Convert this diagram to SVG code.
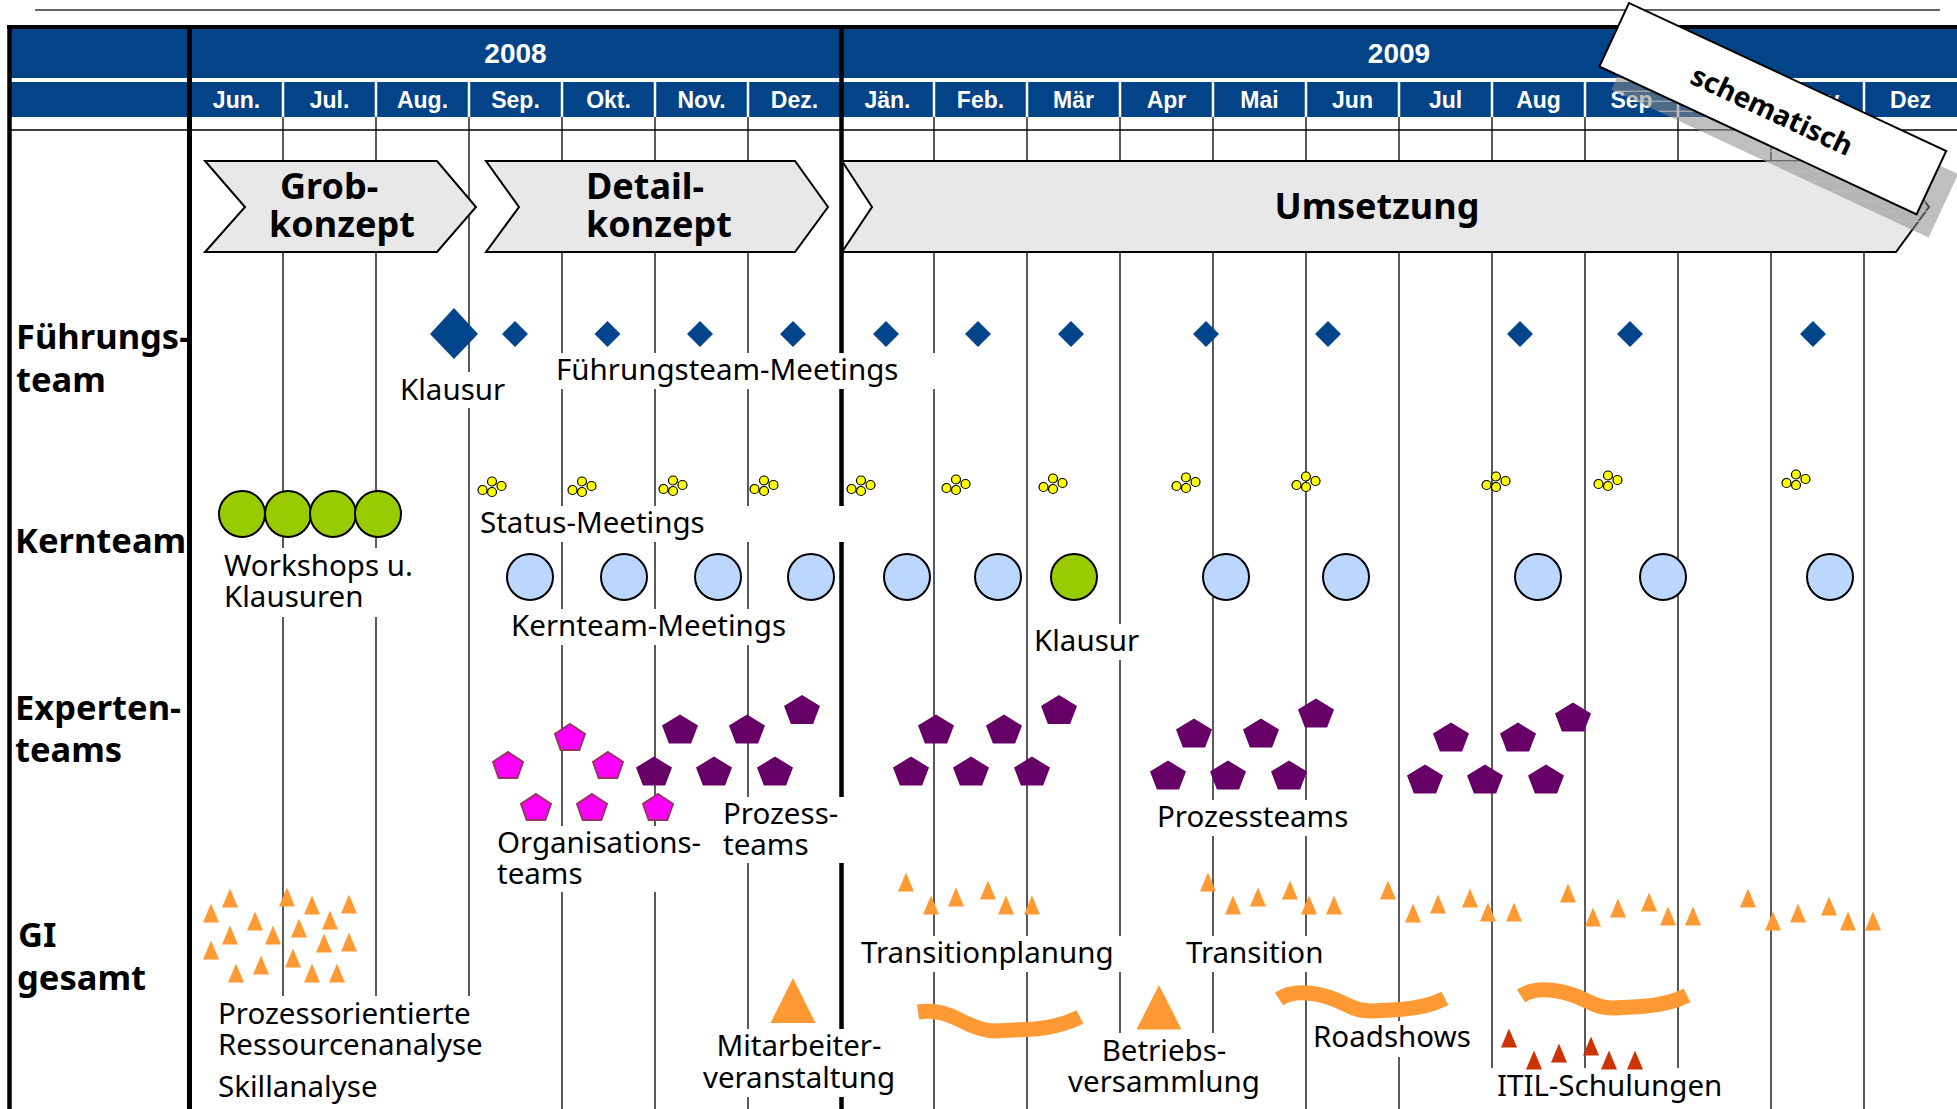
<svg xmlns="http://www.w3.org/2000/svg" xmlns:xlink="http://www.w3.org/1999/xlink" width="1957" height="1109" viewBox="0 0 1957 1109">
<defs>
<style>
.hd{font-family:"Liberation Sans",Arial,sans-serif;font-weight:bold;fill:#fff}
.yr{font-size:28px}
.mo{font-size:23px}
.rl{font-family:"Noto Sans","DejaVu Sans",sans-serif;font-weight:bold;font-size:34.5px;fill:#000}
.ch{font-family:"Noto Sans","DejaVu Sans",sans-serif;font-weight:bold;font-size:36px;fill:#000}
.lb{font-family:"Noto Sans","DejaVu Sans",sans-serif;font-size:29.5px;fill:#000}
.vl{stroke:#000;stroke-width:1.3}
.bg{fill:#fff}
.chev{fill:#e8e8e8;stroke:#000;stroke-width:2;stroke-linejoin:miter}
.dia{fill:#03458a}
.st circle{fill:#ffff00;stroke:#000;stroke-width:1.2}
.kb{fill:#bbd6ff;stroke:#000;stroke-width:2}
.kg{fill:#99cc00;stroke:#000;stroke-width:2}
.pk{fill:#ff00ff;stroke:#993366;stroke-width:2}
.pp{fill:#660066}
.or{fill:#ff9933}
.rd{fill:#cc3300}
.wave{fill:none;stroke:#ff9933;stroke-width:15;stroke-linecap:butt;stroke-linejoin:round}
</style>
<path id="tri" d="M0,-9.5 L8,9.5 L-8,9.5 Z"/>
<path id="dia" d="M0,-13 L13,0 L0,13 L-13,0 Z"/>
<path id="pent" d="M0,-14.5 L18,-3.4 L11.1,14.5 L-11.1,14.5 L-18,-3.4 Z"/>
<path id="pentk" d="M0,-13 L15,-3.1 L9.3,13 L-9.3,13 L-15,-3.1 Z"/>
<g id="st" class="st"><circle cx="-9.5" cy="3" r="4.5"/><circle cx="0" cy="-5.5" r="4.5"/><circle cx="9.5" cy="-1" r="4.5"/><circle cx="0" cy="5" r="4.5"/></g>
<pattern id="hatch" width="10" height="10" patternUnits="userSpaceOnUse" patternTransform="rotate(-25)">
<rect width="10" height="10" fill="#8a8a8a" fill-opacity="0.55"/>
<path d="M0,9.5 H10" stroke="#bdbdbd" stroke-width="1"/>
</pattern>
</defs>

<rect width="1957" height="1109" fill="#fff"/>
<line x1="35" y1="10" x2="1940" y2="10" stroke="#333" stroke-width="1.5"/>

<g id="header">
<rect x="9" y="29" width="1948" height="49" fill="#034388"/>
<rect x="9" y="82" width="1948" height="35" fill="#034388"/>
<g stroke="#fff" stroke-width="2.5">
<line x1="283" y1="82" x2="283" y2="117"/><line x1="376" y1="82" x2="376" y2="117"/><line x1="469" y1="82" x2="469" y2="117"/><line x1="562" y1="82" x2="562" y2="117"/><line x1="655" y1="82" x2="655" y2="117"/><line x1="748" y1="82" x2="748" y2="117"/>
<line x1="934" y1="82" x2="934" y2="117"/><line x1="1027" y1="82" x2="1027" y2="117"/><line x1="1120" y1="82" x2="1120" y2="117"/><line x1="1213" y1="82" x2="1213" y2="117"/><line x1="1306" y1="82" x2="1306" y2="117"/><line x1="1399" y1="82" x2="1399" y2="117"/><line x1="1492" y1="82" x2="1492" y2="117"/><line x1="1585" y1="82" x2="1585" y2="117"/><line x1="1678" y1="82" x2="1678" y2="117"/><line x1="1771" y1="82" x2="1771" y2="117"/><line x1="1864" y1="82" x2="1864" y2="117"/>
</g>
<rect x="7" y="25" width="1950" height="4" fill="#000"/>
<text class="hd yr" x="515.5" y="63" text-anchor="middle">2008</text>
<text class="hd yr" x="1399" y="63" text-anchor="middle">2009</text>
<g class="hd mo" text-anchor="middle">
<text x="236.5" y="108">Jun.</text><text x="329.5" y="108">Jul.</text><text x="422.5" y="108">Aug.</text><text x="515.5" y="108">Sep.</text><text x="608.5" y="108">Okt.</text><text x="701.5" y="108">Nov.</text><text x="794.5" y="108">Dez.</text>
<text x="887.5" y="108">Jän.</text><text x="980.5" y="108">Feb.</text><text x="1073.5" y="108">Mär</text><text x="1166.5" y="108">Apr</text><text x="1259.5" y="108">Mai</text><text x="1352.5" y="108">Jun</text><text x="1445.5" y="108">Jul</text><text x="1538.5" y="108">Aug</text><text x="1631.5" y="108">Sep</text><text x="1724.5" y="108">Okt</text><text x="1817.5" y="108">Nov</text><text x="1910.5" y="108">Dez</text>
</g>
</g>

<g id="grid">
<line x1="9" y1="130" x2="1957" y2="130" stroke="#000" stroke-width="1.5"/>
<g class="vl">
<line x1="283" y1="117" x2="283" y2="1109"/><line x1="376" y1="117" x2="376" y2="1109"/><line x1="469" y1="117" x2="469" y2="1109"/><line x1="562" y1="117" x2="562" y2="1109"/><line x1="655" y1="117" x2="655" y2="1109"/><line x1="748" y1="117" x2="748" y2="1109"/>
<line x1="934" y1="117" x2="934" y2="1109"/><line x1="1027" y1="117" x2="1027" y2="1109"/><line x1="1120" y1="117" x2="1120" y2="1109"/><line x1="1213" y1="117" x2="1213" y2="1109"/><line x1="1306" y1="117" x2="1306" y2="1109"/><line x1="1399" y1="117" x2="1399" y2="1109"/><line x1="1492" y1="117" x2="1492" y2="1109"/><line x1="1585" y1="117" x2="1585" y2="1109"/><line x1="1678" y1="117" x2="1678" y2="1109"/><line x1="1771" y1="117" x2="1771" y2="1109"/><line x1="1864" y1="117" x2="1864" y2="1109"/>
</g>
<line x1="9.5" y1="25" x2="9.5" y2="1109" stroke="#000" stroke-width="4.5"/>
<line x1="189.5" y1="25" x2="189.5" y2="1109" stroke="#000" stroke-width="5"/>
<line x1="841.5" y1="25" x2="841.5" y2="1109" stroke="#000" stroke-width="4.5"/>
</g>

<g id="label-backgrounds" class="bg">
<rect x="396" y="372" width="111" height="36"/>
<rect x="552" y="353" width="393" height="36"/>
<rect x="220" y="548" width="205" height="69"/>
<rect x="476" y="506" width="370" height="36"/>
<rect x="507" y="609" width="285" height="36"/>
<rect x="1030" y="624" width="111" height="36"/>
<rect x="493" y="826" width="212" height="66"/>
<rect x="719" y="797" width="128" height="66"/>
<rect x="1153" y="800" width="198" height="36"/>
<rect x="857" y="936" width="270" height="36"/>
<rect x="1182" y="936" width="147" height="36"/>
<rect x="214" y="996" width="282" height="113"/>
<rect x="692" y="1029" width="214" height="68"/>
<rect x="1064" y="1033" width="200" height="76"/>
<rect x="1309" y="1021" width="167" height="36"/>
<rect x="1490" y="1068" width="246" height="41"/>
</g>

<g id="phases">
<g id="phase-grob">
<polygon class="chev" points="205,161 437,161 476,207 437,252 205,252 245,207"/>
<text class="ch" x="280" y="199">Grob-</text>
<text class="ch" x="269" y="237">konzept</text>
</g>
<g id="phase-detail">
<polygon class="chev" points="486,161 795,161 828,207 795,252 486,252 519,207"/>
<text class="ch" x="586" y="199">Detail-</text>
<text class="ch" x="586" y="237">konzept</text>
</g>
<g id="phase-umsetzung">
<polygon class="chev" points="842,161 1896,161 1929,207 1896,252 842,252 872,207"/>
<text class="ch" x="1377" y="219" text-anchor="middle">Umsetzung</text>
</g>
</g>

<g id="row-labels">
<text class="rl" x="16" y="349">Führungs-</text>
<text class="rl" x="16" y="392">team</text>
<text class="rl" x="15" y="553">Kernteam</text>
<text class="rl" x="15" y="720">Experten-</text>
<text class="rl" x="15" y="762">teams</text>
<text class="rl" x="18" y="947">GI</text>
<text class="rl" x="17" y="990">gesamt</text>
</g>

<g id="fuehrungsteam">
<polygon class="dia" points="454,308 478,334 454,359 430,334"/>
<g class="dia">
<use href="#dia" x="515" y="334"/><use href="#dia" x="607.5" y="334"/><use href="#dia" x="700" y="334"/><use href="#dia" x="793" y="334"/><use href="#dia" x="886" y="334"/><use href="#dia" x="978" y="334"/><use href="#dia" x="1071" y="334"/><use href="#dia" x="1206" y="334"/><use href="#dia" x="1328" y="334"/><use href="#dia" x="1520" y="334"/><use href="#dia" x="1630" y="334"/><use href="#dia" x="1813" y="334"/>
</g>
<text class="lb" x="400" y="400">Klausur</text>
<text class="lb" x="556" y="380">Führungsteam-Meetings</text>
</g>

<g id="kernteam">
<circle class="kg" cx="242" cy="514" r="23"/><circle class="kg" cx="288" cy="514" r="23"/><circle class="kg" cx="333" cy="514" r="23"/><circle class="kg" cx="378" cy="514" r="23"/>
<text class="lb" x="224" y="576">Workshops u.<tspan x="224" dy="31">Klausuren</tspan></text>
<use href="#st" x="492" y="487"/><use href="#st" x="582" y="487"/><use href="#st" x="673" y="486"/><use href="#st" x="764" y="486"/><use href="#st" x="861" y="486"/><use href="#st" x="956" y="485"/><use href="#st" x="1053" y="484"/><use href="#st" x="1186" y="483"/><use href="#st" x="1306" y="482"/><use href="#st" x="1496" y="482"/><use href="#st" x="1608" y="481"/><use href="#st" x="1796" y="480"/>
<text class="lb" x="480" y="533">Status-Meetings</text>
<circle class="kb" cx="530" cy="577" r="23"/><circle class="kb" cx="624" cy="577" r="23"/><circle class="kb" cx="718" cy="577" r="23"/><circle class="kb" cx="811" cy="577" r="23"/><circle class="kb" cx="907" cy="577" r="23"/><circle class="kb" cx="998" cy="577" r="23"/>
<circle class="kg" cx="1074" cy="577" r="23"/>
<circle class="kb" cx="1226" cy="577" r="23"/><circle class="kb" cx="1346" cy="577" r="23"/><circle class="kb" cx="1538" cy="577" r="23"/><circle class="kb" cx="1663" cy="577" r="23"/><circle class="kb" cx="1830" cy="577" r="23"/>
<text class="lb" x="511" y="636">Kernteam-Meetings</text>
<text class="lb" x="1034" y="651">Klausur</text>
</g>

<g id="expertenteams">
<g class="pk">
<use href="#pentk" x="508" y="765"/><use href="#pentk" x="570" y="737"/><use href="#pentk" x="608" y="765"/><use href="#pentk" x="536" y="807"/><use href="#pentk" x="592" y="807"/><use href="#pentk" x="658" y="807"/>
</g>
<g class="pp">
<use href="#pent" x="680" y="729"/><use href="#pent" x="747" y="729"/><use href="#pent" x="802" y="709.5"/><use href="#pent" x="654" y="771"/><use href="#pent" x="714" y="771"/><use href="#pent" x="775" y="771"/>
<use href="#pent" x="936" y="729"/><use href="#pent" x="1004" y="729"/><use href="#pent" x="1059" y="709.5"/><use href="#pent" x="911" y="771"/><use href="#pent" x="971" y="771"/><use href="#pent" x="1032" y="771"/>
<use href="#pent" x="1194" y="733"/><use href="#pent" x="1261" y="733"/><use href="#pent" x="1316" y="713"/><use href="#pent" x="1168" y="775"/><use href="#pent" x="1228" y="775"/><use href="#pent" x="1289" y="775"/>
<use href="#pent" x="1451" y="737"/><use href="#pent" x="1518" y="737"/><use href="#pent" x="1573" y="717"/><use href="#pent" x="1425" y="779"/><use href="#pent" x="1485" y="779"/><use href="#pent" x="1546" y="779"/>
</g>
<text class="lb" x="497" y="853">Organisations-<tspan x="497" dy="31">teams</tspan></text>
<text class="lb" x="723" y="824">Prozess-<tspan x="723" dy="31">teams</tspan></text>
<text class="lb" x="1157" y="827">Prozessteams</text>
</g>

<g id="gi-gesamt">
<g class="or">
<use href="#tri" x="211" y="913"/><use href="#tri" x="230" y="898"/><use href="#tri" x="255" y="921"/><use href="#tri" x="230" y="935"/><use href="#tri" x="211" y="950"/><use href="#tri" x="273" y="935"/><use href="#tri" x="287" y="897"/><use href="#tri" x="312" y="905"/><use href="#tri" x="349" y="904"/><use href="#tri" x="330" y="920"/><use href="#tri" x="299" y="928"/><use href="#tri" x="324" y="943"/><use href="#tri" x="349" y="942"/><use href="#tri" x="293" y="958"/><use href="#tri" x="261" y="965"/><use href="#tri" x="236" y="973"/><use href="#tri" x="312" y="973"/><use href="#tri" x="337" y="973"/>
<use href="#tri" x="906" y="882"/><use href="#tri" x="931" y="905"/><use href="#tri" x="956" y="897"/><use href="#tri" x="988" y="890"/><use href="#tri" x="1006" y="905"/><use href="#tri" x="1032" y="905"/>
<use href="#tri" x="1208" y="882"/><use href="#tri" x="1233" y="905"/><use href="#tri" x="1258" y="897"/><use href="#tri" x="1290" y="890"/><use href="#tri" x="1309" y="905"/><use href="#tri" x="1334" y="905"/>
<use href="#tri" x="1388" y="890"/><use href="#tri" x="1413" y="913"/><use href="#tri" x="1438" y="904"/><use href="#tri" x="1470" y="898"/><use href="#tri" x="1488" y="912"/><use href="#tri" x="1514" y="912"/>
<use href="#tri" x="1568" y="893"/><use href="#tri" x="1593" y="917"/><use href="#tri" x="1618" y="908"/><use href="#tri" x="1649" y="902"/><use href="#tri" x="1668" y="916"/><use href="#tri" x="1693" y="916"/>
<use href="#tri" x="1748" y="898"/><use href="#tri" x="1773" y="921"/><use href="#tri" x="1798" y="913"/><use href="#tri" x="1829" y="906"/><use href="#tri" x="1848" y="921"/><use href="#tri" x="1873" y="921"/>
<polygon points="793,978 815.5,1023 770.5,1023"/>
<polygon points="1159,985 1181.5,1029.5 1136.5,1029.5"/>
</g>
<path class="wave" d="M918,1012 C930,1010 945,1012 960,1020 C975,1028 985,1031 995,1031 L1035,1029 C1055,1027 1068,1023 1080,1017"/>
<path class="wave" d="M1279,999 C1288,993 1300,992 1312,993.5 C1325,995 1335,999 1345,1004 C1355,1009 1362,1011.5 1372,1011 L1400,1009.5 C1420,1008 1432,1005 1445,998.5"/>
<path class="wave" transform="translate(242,-3)" d="M1279,999 C1288,993 1300,992 1312,993.5 C1325,995 1335,999 1345,1004 C1355,1009 1362,1011.5 1372,1011 L1400,1009.5 C1420,1008 1432,1005 1445,998.5"/>
<g class="rd">
<use href="#tri" x="1509" y="1038"/><use href="#tri" x="1534" y="1060"/><use href="#tri" x="1559" y="1053"/><use href="#tri" x="1591" y="1046"/><use href="#tri" x="1609" y="1060"/><use href="#tri" x="1635" y="1060"/>
</g>
<text class="lb" x="218" y="1024">Prozessorientierte<tspan x="218" dy="31">Ressourcenanalyse</tspan></text>
<text class="lb" x="218" y="1097">Skillanalyse</text>
<text class="lb" x="861" y="963">Transitionplanung</text>
<text class="lb" x="1186" y="963">Transition</text>
<text class="lb" x="799" y="1056" text-anchor="middle">Mitarbeiter-<tspan x="799" dy="32">veranstaltung</tspan></text>
<text class="lb" x="1164" y="1061" text-anchor="middle">Betriebs-<tspan x="1164" dy="31">versammlung</tspan></text>
<text class="lb" x="1313" y="1047">Roadshows</text>
<text class="lb" x="1497" y="1096">ITIL-Schulungen</text>
</g>

<g id="schematisch">
<g transform="translate(1784.8,131.7) rotate(25)">
<rect x="-175" y="-35" width="350" height="70" fill="url(#hatch)"/>
</g>
<g transform="translate(1772.8,108.7) rotate(25)">
<rect x="-175" y="-35" width="350" height="70" fill="#fff" stroke="#000" stroke-width="2"/>
<text x="0" y="12" text-anchor="middle" font-family="Noto Sans, DejaVu Sans, sans-serif" font-weight="bold" font-size="28">schematisch</text>
</g>
</g>
</svg>
